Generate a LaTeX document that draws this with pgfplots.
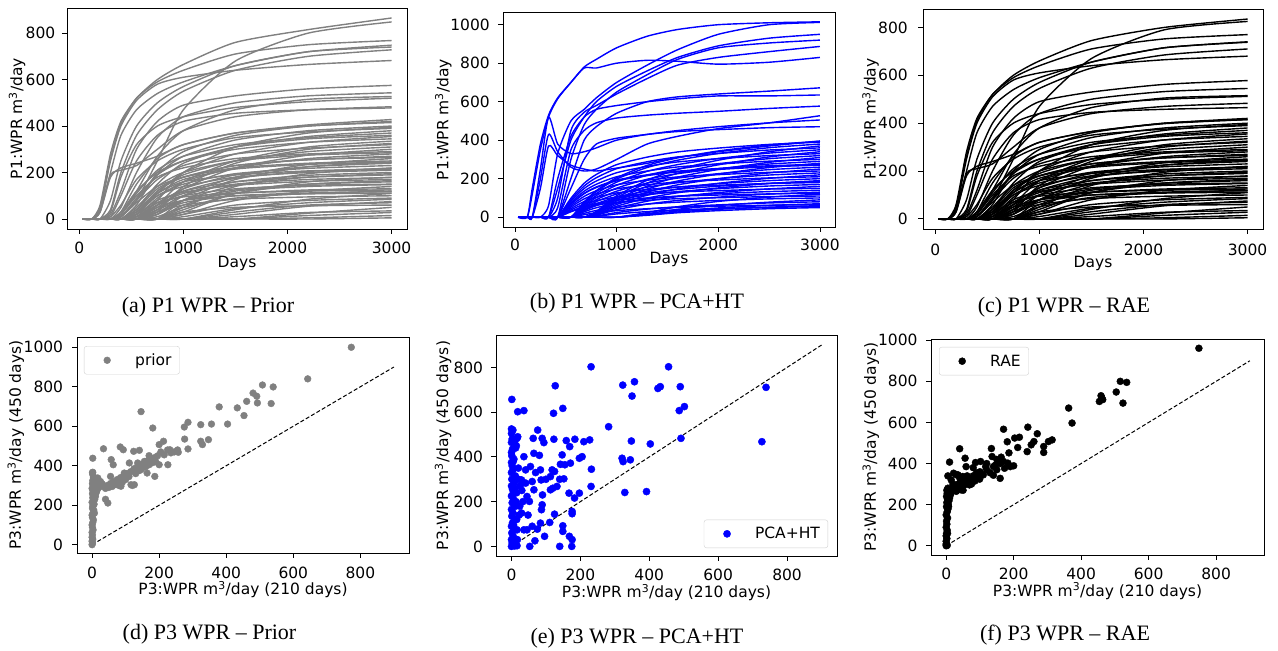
\documentclass[border=0pt]{standalone}
\usepackage{fontspec}
\setmainfont{DejaVu Sans}
\newfontfamily\capfont{Liberation Serif}
\usepackage{pgfplots}
\usepackage{pgfplotstable}
\pgfplotsset{compat=1.18}
\newcommand\fs{\fontsize{15.5}{18.6}\selectfont}
\newcommand\cfs{\capfont\fontsize{22}{26}\selectfont}

% ---------- Panel (a) upper curves (first row = days) ----------
\pgfplotstableread[header=false]{
30 120 200 300 400 550 750 1000 1500 2200 3000
0 0 60 280 420 520 600 665 760 815 865
0 0 50 260 410 520 590 640 710 750 768
0 0 0 0 10 80 250 470 680 800 848
0 0 30 200 360 470 540 590 660 720 748
0 0 0 80 250 400 500 570 660 720 740
0 0 0 40 200 360 470 550 640 700 728
0 0 40 250 400 510 580 610 640 665 682
0 0 0 20 120 300 420 490 530 560 575
0 0 0 0 50 200 350 440 500 530 543
0 0 0 0 20 120 270 380 470 515 527
0 0 0 30 180 320 400 440 480 505 520
0 0 40 190 210 230 300 380 440 470 483
0 0 0 10 100 250 360 420 455 470 478
0 0 30 180 220 240 270 320 370 405 428
0 0 0 0 30 150 260 320 370 400 420
}\AtopRaw
\pgfplotstabletranspose{\Atop}{\AtopRaw}

% ---------- Panel (c) upper curves ----------
\pgfplotstableread[header=false]{
30 120 200 300 400 550 750 1000 1500 2200 3000
0 0 60 280 420 520 600 660 745 800 835
0 0 50 260 410 520 590 640 710 752 770
0 0 0 0 10 80 250 470 670 790 825
0 0 30 200 360 470 540 590 655 715 740
0 0 0 80 250 400 500 570 655 715 738
0 0 0 40 200 360 470 545 630 685 710
0 0 40 250 400 510 580 610 640 665 680
0 0 0 20 120 300 420 490 530 562 578
0 0 0 0 50 200 350 440 500 532 545
0 0 0 0 20 120 270 380 465 505 515
0 0 0 30 180 320 400 440 478 500 512
0 0 40 190 210 230 300 380 440 470 483
0 0 0 10 100 250 360 415 445 458 465
0 0 30 180 220 240 270 320 365 400 420
0 0 0 0 30 150 260 320 365 398 415
}\CtopRaw
\pgfplotstabletranspose{\Ctop}{\CtopRaw}

% ---------- Panels (a),(c) dense band ----------
\pgfplotstableread[header=false]{
30 120 200 300 400 550 750 1000 1500 2200 3000
0 0 0 0 10 80 190 270 340 380 400
0 0 0 10 60 170 250 300 350 375 390
0 0 0 0 0 40 150 240 310 355 380
0 0 0 0 20 110 210 270 320 350 370
0 0 0 0 0 20 110 200 280 330 355
0 0 0 0 30 120 200 250 300 330 345
0 0 0 0 0 0 60 160 250 310 335
0 0 0 0 10 80 170 230 280 305 320
0 0 0 0 0 30 120 190 250 290 310
0 0 0 0 0 0 40 130 220 275 300
0 0 0 0 20 100 180 220 260 280 290
0 0 0 0 0 10 90 160 220 260 280
0 0 0 0 0 40 130 180 230 255 270
0 0 0 0 0 0 20 100 180 235 260
0 0 0 0 10 70 140 180 220 240 250
0 0 0 0 0 0 60 130 190 225 240
0 0 0 0 0 20 100 150 195 218 230
0 0 0 0 0 0 0 50 140 195 220
0 0 0 0 0 30 100 140 180 200 210
0 0 0 0 0 0 40 100 160 188 200
0 0 0 0 0 10 70 120 160 180 190
0 0 0 0 0 0 0 30 110 160 180
0 0 0 0 0 20 80 115 145 162 170
0 0 0 0 0 0 30 80 125 150 160
0 0 0 0 0 10 60 100 130 145 150
0 0 0 0 0 0 0 20 80 120 140
0 0 0 0 0 0 40 80 110 125 130
0 0 0 0 0 0 10 50 90 110 120
0 0 0 0 0 0 0 0 40 85 110
0 0 0 0 0 0 30 60 85 95 100
0 0 0 0 0 0 0 20 60 80 90
0 0 0 0 0 0 0 0 20 55 75
0 0 0 0 0 0 0 30 50 57 60
0 0 0 0 0 0 0 0 0 25 50
0 0 0 0 0 0 0 0 10 28 35
0 0 0 0 0 0 0 0 0 5 15
0 0 0 0 0 0 0 0 0 0 5
0 0 0 0 0 60 200 290 360 400 415
0 0 0 0 0 0 80 200 310 370 395
0 0 0 0 10 90 190 250 310 345 360
0 0 0 0 0 0 30 140 240 300 325
0 0 0 0 0 50 140 200 250 275 285
0 0 0 0 0 0 0 80 170 225 245
0 0 0 0 0 40 110 160 190 207 215
0 0 0 0 0 0 20 80 145 180 195
0 0 0 0 0 0 0 40 110 150 165
0 0 0 0 0 20 70 95 112 120 125
0 0 0 0 0 0 0 10 45 70 85
0 0 0 0 0 20 120 180 230 255 265
0 0 0 0 0 30 110 170 215 235 245
0 0 0 0 0 0 50 120 175 205 218
0 0 0 0 0 10 60 110 150 170 178
0 0 0 0 0 0 0 60 120 140 148
0 0 0 0 0 0 20 70 100 112 118
0 0 0 0 0 0 0 0 30 60 70
0 0 0 0 0 10 50 80 100 108 112
0 0 0 0 0 0 0 0 0 15 28
}\BandRaw
\pgfplotstabletranspose{\Band}{\BandRaw}

% ---------- Panel (b) upper curves ----------
\pgfplotstableread[header=false]{
30 120 170 250 330 420 550 680 800 1000 1300 1600 2000 2500 3000
0 0 150 380 530 620 700 780 820 880 940 975 1000 1010 1015
0 0 120 350 520 615 700 775 775 800 815 810 795 805 830
0 0 0 0 60 330 500 560 620 700 790 870 950 1000 1012
0 0 0 0 0 150 400 520 600 680 760 830 890 930 950
0 0 0 0 0 0 300 480 560 650 740 820 880 905 920
0 0 0 0 0 100 450 545 580 640 720 790 830 860 887
0 0 0 0 0 0 200 400 470 540 600 625 640 655 672
0 0 0 0 0 200 420 520 560 580 600 615 630 630 635
0 0 0 0 0 50 350 450 490 515 530 540 550 565 577
0 0 0 200 430 340 260 240 250 300 380 420 460 490 527
0 0 0 0 0 0 150 300 380 410 430 450 470 490 505
0 0 0 250 520 380 330 340 360 400 430 445 455 465 470
0 0 0 150 370 320 270 250 240 255 280 310 340 370 395
}\BtopRaw
\pgfplotstabletranspose{\Btop}{\BtopRaw}

% ---------- Panel (b) dense band ----------
\pgfplotstableread[header=false]{
30 120 170 250 330 420 550 680 800 1000 1300 1600 2000 2500 3000
0 0 0 0 0 0 98 176 222 273 312 339 359 378 390
0 0 0 0 0 0 0 76 133 198 258 296 331 361 380
0 0 0 0 0 0 0 0 30 111 192 248 296 340 370
0 0 0 0 0 0 90 162 205 252 288 313 331 349 360
0 0 0 0 0 0 0 70 123 182 238 273 305 333 350
0 0 0 0 0 0 0 0 27 102 177 228 272 313 340
0 0 0 0 0 0 83 149 188 231 264 287 304 320 330
0 0 0 0 0 0 0 64 112 166 218 250 278 304 320
0 0 0 0 0 0 0 0 25 93 161 208 248 285 310
0 0 0 0 0 0 75 135 171 210 240 261 276 291 300
0 0 0 0 0 0 0 58 102 151 197 226 252 276 290
0 0 0 0 0 0 0 0 22 84 146 188 224 258 280
0 0 0 0 0 0 68 122 154 189 216 235 248 262 270
0 0 0 0 0 0 0 52 91 135 177 203 226 247 260
0 0 0 0 0 0 0 0 20 75 130 168 200 230 250
0 0 0 0 0 0 60 108 137 168 192 209 221 233 240
0 0 0 0 0 0 0 46 81 120 156 179 200 219 230
0 0 0 0 0 0 0 0 18 66 114 147 176 202 220
0 0 0 0 0 0 53 95 120 147 168 183 193 204 210
0 0 0 0 0 0 0 40 70 104 136 156 174 190 200
0 0 0 0 0 0 0 0 15 57 99 127 152 175 190
0 0 0 0 0 0 45 81 103 126 144 157 166 175 180
0 0 0 0 0 0 0 34 60 88 116 133 148 162 170
0 0 0 0 0 0 0 0 13 48 83 107 128 147 160
0 0 0 0 0 0 38 68 86 105 120 131 138 146 150
0 0 0 0 0 0 0 28 49 73 95 109 122 133 140
0 0 0 0 0 0 0 0 10 39 68 87 104 120 130
0 0 0 0 0 0 0 0 0 0 24 54 82 104 120
0 0 0 0 0 0 28 50 63 77 88 96 101 107 110
0 0 0 0 0 0 0 20 35 52 68 78 87 95 100
0 0 0 0 0 0 0 0 0 0 18 41 61 78 90
0 0 0 0 0 0 0 0 6 24 42 54 64 74 80
0 0 0 0 0 0 0 0 0 0 14 32 48 61 70
0 0 0 0 0 0 0 0 0 0 12 27 41 52 60
0 0 0 0 0 0 0 0 4 17 29 37 44 51 55
0 0 0 0 0 0 0 0 0 0 10 23 34 44 50
0 0 0 0 0 0 0 79 138 205 269 308 344 375 395
0 0 0 0 0 0 69 124 157 193 220 239 253 267 275
0 0 0 0 0 0 0 37 65 96 126 144 161 176 185
0 0 0 0 0 0 31 56 71 88 100 109 115 121 125
0 0 0 0 0 0 0 13 23 34 44 51 57 62 65
}\BbandRaw
\pgfplotstabletranspose{\Bband}{\BbandRaw}

\pgfplotsset{
  base/.style={
    scale only axis,
    tick pos=left,
    tick align=outside,
    major tick length=5pt,
    every tick/.style={black, line width=0.9pt},
    axis line style={line width=0.9pt, black},
    /pgf/number format/1000 sep={},
    /pgf/number format/assume math mode=true,
    tick label style={font=\fs},
    xticklabel style={anchor=center, inner sep=0pt},
    yticklabel style={anchor=east, inner sep=0pt},
    every axis x label/.style={anchor=center, font=\fs},
    every axis y label/.style={anchor=center, rotate=90, font=\fs},
    clip=false,
  },
  crv/.style={line width=1.4pt, smooth, tension=0.4},
  leg/.style={
    legend style={draw=black!18, rounded corners=2.5pt, fill=white,
      inner sep=0pt, font=\fs, nodes={inner sep=0pt, anchor=west}},
    legend cell align=left,
    legend image code/.code={\path[draw=none, fill=none] (0pt,-14pt) rectangle (51pt,14pt);
      \draw plot coordinates {(23pt,0pt)};},
  },
}

\begin{document}
\begin{tikzpicture}
\path[use as bounding box] (0,0) rectangle (1278pt,651pt);

% ---------------- (a) ----------------
\begin{axis}[base, at={(67pt,422pt)}, anchor=south west, width=340pt, height=221pt,
  xmin=-118, xmax=3148, ymin=-43, ymax=908,
  xtick={0,1000,2000,3000}, ytick={0,200,400,600,800},
  xlabel={Days}, ylabel={P1:WPR m\textsuperscript{3}/day},
  xlabel style={at={(axis description cs:0.5,-0.154)}},
  ylabel style={at={(axis description cs:-0.147,0.5)}},
  xticklabel style={yshift=-14.3pt}, yticklabel style={xshift=-6.5pt}]
\pgfplotsinvokeforeach{2,...,58}{\addplot[crv, color={rgb,255:red,128;green,128;blue,128}] table[x index=1, y index=#1]{\Band};}
\pgfplotsinvokeforeach{2,...,16}{\addplot[crv, color={rgb,255:red,128;green,128;blue,128}] table[x index=1, y index=#1]{\Atop};}
\end{axis}

% ---------------- (b) ----------------
\begin{axis}[base, at={(503pt,424pt)}, anchor=south west, width=332pt, height=215pt,
  xmin=-118, xmax=3148, ymin=-51, ymax=1066,
  xtick={0,1000,2000,3000}, ytick={0,200,400,600,800,1000},
  xlabel={Days}, ylabel={P1:WPR m\textsuperscript{3}/day},
  xlabel style={at={(axis description cs:0.5,-0.153)}},
  ylabel style={at={(axis description cs:-0.180,0.5)}},
  xticklabel style={yshift=-13pt}, yticklabel style={xshift=-8pt}]
\pgfplotsinvokeforeach{2,...,42}{\addplot[crv, color=blue] table[x index=1, y index=#1]{\Bband};}
\pgfplotsinvokeforeach{2,...,14}{\addplot[crv, color=blue] table[x index=1, y index=#1]{\Btop};}
\end{axis}

% ---------------- (c) ----------------
\begin{axis}[base, at={(923pt,422pt)}, anchor=south west, width=340pt, height=220pt,
  xmin=-118, xmax=3148, ymin=-42, ymax=877,
  xtick={0,1000,2000,3000}, ytick={0,200,400,600,800},
  xlabel={Days}, ylabel={P1:WPR m\textsuperscript{3}/day},
  xlabel style={at={(axis description cs:0.5,-0.156)}},
  ylabel style={at={(axis description cs:-0.154,0.5)}},
  xticklabel style={yshift=-16pt}, yticklabel style={xshift=-10pt}]
\pgfplotsinvokeforeach{2,...,58}{\addplot[crv, color=black] table[x index=1, y index=#1]{\Band};}
\pgfplotsinvokeforeach{2,...,16}{\addplot[crv, color=black] table[x index=1, y index=#1]{\Ctop};}
\end{axis}

% ---------------- (d) ----------------
\begin{axis}[base, leg, at={(77pt,98pt)}, anchor=south west, width=332pt, height=216pt,
  xmin=-45, xmax=945, ymin=-42, ymax=1052,
  xtick={0,200,400,600,800}, ytick={0,200,400,600,800,1000},
  xlabel={P3:WPR m\textsuperscript{3}/day (210 days)},
  ylabel={P3:WPR m\textsuperscript{3}/day (450 days)},
  xlabel style={at={(axis description cs:0.5,-0.171)}},
  ylabel style={at={(axis description cs:-0.184,0.5)}},
  xticklabel style={yshift=-15.3pt}, yticklabel style={xshift=-8.7pt},
  legend style={at={(0.021,0.958)}, anchor=north west}]
\addplot[only marks, mark=*, mark size=3.4pt, color={rgb,255:red,128;green,128;blue,128}] coordinates {
(0,0) (1,8) (0,18) (2,28) (0,38) (1,50) (0,62) (3,75) (1,88) (0,100) (2,112) (4,125) (1,138) (0,150) (3,162) (5,175) (1,185) (2,195) (6,205) (0,215) (4,222) (8,230) (2,238) (10,245) (5,252) (1,258) (12,262) (7,268) (3,272) (15,276) (9,280) (0,285) (18,288) (6,292) (22,295) (12,298) (3,302) (26,300) (15,306) (1,310) (30,308) (20,312) (8,318) (2,325) (35,296) (10,330) (4,340) (25,320) (1,365) (2,355) (2,438) (2,367)
(40,285) (45,300) (50,290) (55,310) (60,295) (65,320) (70,305) (75,330) (80,300) (85,340) (90,315) (95,350) (100,330) (105,360) (110,345) (115,370) (120,300) (125,385) (130,360) (135,395) (140,375) (145,405) (150,390) (155,410) (160,395) (165,425) (170,405) (175,430) (180,415) (185,440) (190,420) (195,450) (200,405) (205,470) (215,455) (225,480) (235,465) (245,470) (255,480)
(47,211) (40,230) (55,346) (71,313) (86,296) (27,296) (17,338) (10,313) (5,245) (7,160) (57,431) (63,405) (111,414) (136,414) (146,380) (156,422) (164,363) (96,363) (116,304) (126,304) (34,486) (84,495) (93,481) (124,473) (141,478) (170,451) (226,405) (187,346) (213,524) (200,507) (257,468) (232,481) (286,485) (276,535) (324,524) (347,532) (329,507) (286,620) (275,596) (324,608) (356,611) (404,611) (146,674) (181,591) (379,698) (433,693) (453,654) (461,726) (493,718) (534,715) (480,768) (491,752) (508,809) (540,799) (643,840) (773,1000)
};
\addlegendentry{prior\hspace*{8pt}}
\addplot[forget plot, black, line width=1pt, dash pattern=on 4pt off 2.2pt] coordinates {(0,0) (900,900)};
\end{axis}

% ---------------- (e) ----------------
\begin{axis}[base, leg, at={(496pt,95pt)}, anchor=south west, width=341pt, height=221pt,
  xmin=-45, xmax=945, ymin=-43, ymax=945,
  xtick={0,200,400,600,800}, ytick={0,200,400,600,800},
  xlabel={P3:WPR m\textsuperscript{3}/day (210 days)},
  ylabel={P3:WPR m\textsuperscript{3}/day (450 days)},
  xlabel style={at={(axis description cs:0.5,-0.166)}},
  ylabel style={at={(axis description cs:-0.155,0.5)}},
  xticklabel style={yshift=-14pt}, yticklabel style={xshift=-7.7pt},
  legend style={at={(0.974,0.036)}, anchor=south east}]
\addplot[only marks, mark=*, mark size=3.6pt, color=blue] coordinates {
(0,0) (2,15) (0,30) (5,45) (1,60) (8,75) (0,90) (3,105) (10,120) (1,135) (4,150) (0,165) (12,180) (2,195) (6,210) (0,225) (15,240) (3,255) (0,270) (8,285) (1,300) (11,315) (0,330) (5,345) (2,360) (0,375) (7,390) (1,405) (0,420) (3,435) (14,450) (0,465) (2,480) (18,490) (0,505) (4,520) (20,300) (22,140) (17,30) (9,2) (25,270) (13,200) (6,95) (16,3) (16,74) (18,602) (1,657) (0,525) (16,483) (12,440) (20,350) (10,260) (24,180) (5,380) (9,470) (3,230) (15,120) (7,20)
(231,803) (456,803) (127,718) (323,721) (357,736) (425,706) (432,714) (490,714) (350,672) (36,607) (122,595) (149,617) (487,607) (502,625) (282,535) (76,520) (63,483) (89,483) (94,464) (123,479) (159,473) (169,446) (184,479) (210,468) (227,476) (348,471) (403,458) (492,483) (727,468) (739,711) (36,401) (65,416) (81,407) (205,401) (197,394) (147,409) (142,367) (171,372) (321,394) (324,379) (345,387) (55,357) (84,342) (41,342) (118,342) (125,335) (232,345) (152,302) (29,297) (60,290) (86,297) (41,283) (113,312) (132,268) (113,253) (167,238) (183,216) (197,238) (231,268) (329,241) (392,245) (45,223) (65,253) (52,201) (89,186) (87,164) (29,149) (125,144) (176,156) (176,146) (45,74) (36,74) (75,77) (84,104) (111,107) (149,92) (149,67) (96,45) (68,25) (168,45) (176,30) (53,0) (140,0) (175,0) (100,300) (70,330) (30,250) (48,140) (120,260) (90,230) (140,300) (155,365) (60,90) (33,200)
};
\addlegendentry{PCA+HT\hspace*{8pt}}
\addplot[forget plot, black, line width=1pt, dash pattern=on 4pt off 2.2pt] coordinates {(0,0) (900,900)};
\end{axis}

% ---------------- (f) ----------------
\begin{axis}[base, leg, at={(931pt,96pt)}, anchor=south west, width=333pt, height=216pt,
  xmin=-45, xmax=942, ymin=-45, ymax=1006,
  xtick={0,200,400,600,800}, ytick={0,200,400,600,800,1000},
  xlabel={P3:WPR m\textsuperscript{3}/day (210 days)},
  ylabel={P3:WPR m\textsuperscript{3}/day (450 days)},
  xlabel style={at={(axis description cs:0.5,-0.167)}},
  ylabel style={at={(axis description cs:-0.181,0.5)}},
  xticklabel style={yshift=-14.3pt}, yticklabel style={xshift=-8.3pt},
  legend style={at={(0.024,0.963)}, anchor=north west}]
\addplot[only marks, mark=*, mark size=3.5pt, color=black] coordinates {
(0,0) (1,10) (0,22) (2,35) (0,48) (1,60) (3,75) (0,90) (2,105) (1,120) (4,135) (0,150) (3,165) (5,178) (1,190) (6,200) (2,210) (8,218) (4,226) (10,232) (1,240) (12,246) (6,250) (3,256) (15,258) (9,264) (2,270) (18,268) (12,275) (5,280) (22,272) (0,8) (3,2) (7,190) (4,60)
(25,280) (28,290) (30,265) (35,300) (38,275) (42,310) (45,285) (48,320) (52,295) (55,330) (58,300) (62,340) (65,310) (70,320) (75,300) (80,340) (85,315) (90,355) (95,330) (100,360) (110,345) (120,370) (130,355) (140,385) (150,370) (160,400) (20,300) (15,320) (30,345) (40,330) (50,270)
(749,961) (516,800) (535,795) (504,748) (459,730) (461,719) (454,702) (464,711) (524,694) (363,670) (373,597) (242,577) (270,545) (170,567) (181,506) (203,524) (217,528) (212,478) (240,458) (252,491) (260,507) (289,483) (289,454) (303,507) (314,515) (40,472) (10,407) (56,426) (102,410) (117,385) (87,405) (134,473) (136,434) (146,393) (140,343) (160,328) (170,410) (163,431) (173,377) (183,402) (200,389) (186,452) (99,324) (59,385) (49,337) (35,345) (5,340) (22,353) (69,296) (44,272) (190,385) (120,400) (150,420) (80,380)
};
\addlegendentry{RAE\hspace*{8pt}}
\addplot[forget plot, black, line width=1pt, dash pattern=on 4pt off 2.2pt] coordinates {(0,0) (900,900)};
\end{axis}

% ---------------- captions ----------------
\node[font=\cfs] at (208pt,344pt) {(a) P1 WPR – Prior};
\node[font=\cfs] at (637pt,348pt) {(b) P1 WPR – PCA+HT};
\node[font=\cfs] at (1064pt,344pt) {(c) P1 WPR – RAE};
\node[font=\cfs] at (209.5pt,17pt) {(d) P3 WPR – Prior};
\node[font=\cfs] at (637pt,13pt) {(e) P3 WPR – PCA+HT};
\node[font=\cfs] at (1065pt,16pt) {(f) P3 WPR – RAE};
\end{tikzpicture}
\end{document}
